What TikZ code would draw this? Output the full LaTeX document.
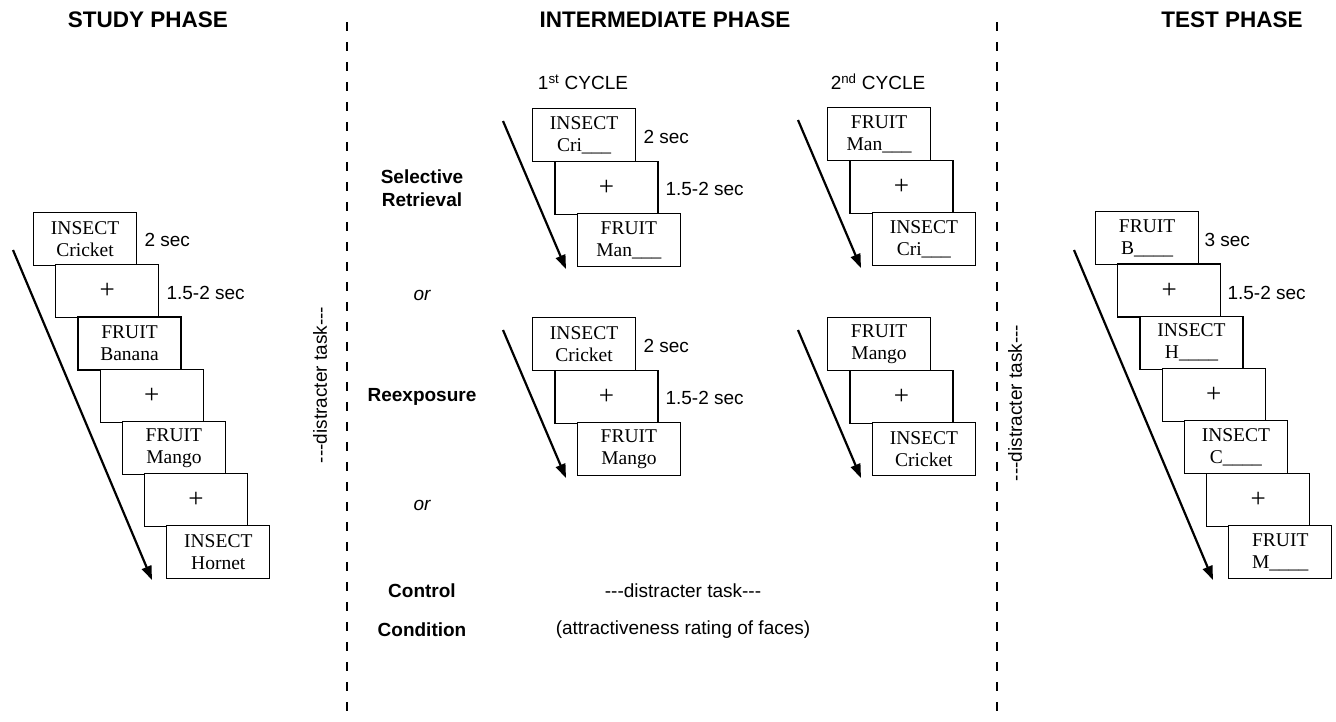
\documentclass[tikz,border=0pt]{standalone}
\usepackage{fontspec}
\setmainfont{Liberation Serif}
\setsansfont{Liberation Sans}
\usetikzlibrary{positioning,arrows.meta}
\newcommand{\crs}{{\fontsize{27}{27}\selectfont+}}
\newcommand{\dtask}{-{}-{}-distracter task-{}-{}-}

\begin{document}
\begin{tikzpicture}[x=1pt,y=-1pt
    ,card/.style={draw, fill=white, line width=1.2pt, minimum width=103pt, minimum height=53pt, inner sep=0pt, anchor=north west, align=center, font=\fontsize{19.5}{22}\selectfont}
    ,flow/.style={line width=2.2pt, -{Triangle[length=14pt,width=10pt]}}
    ,phase/.style={font=\sffamily\bfseries\fontsize{22.5}{26}\selectfont}
    ,cond/.style={font=\sffamily\bfseries\fontsize{19}{23}\selectfont, align=center}
    ,lbl/.style={font=\sffamily\fontsize{19}{23}\selectfont, anchor=west}
    ,alt/.style={font=\sffamily\itshape\fontsize{19}{23}\selectfont}
    ,sep/.style={line width=2.2pt, dash pattern=on 9pt off 11pt}
  ]
\useasboundingbox (0,0) rectangle (1336,721);

% headings
\node[phase] (study) at (148,20) {STUDY PHASE};
\node[phase] (inter) at (665,20) {INTERMEDIATE PHASE};
\node[phase] (test) at (1232,20) {TEST PHASE};

% separators
\coordinate (l1) at (347,22);
\coordinate (l2) at (347,721);
\coordinate (r1) at (997,22);
\coordinate (r2) at (997,721);
\draw[sep] (l1) -- (l2);
\draw[sep] (r1) -- (r2);
\node[lbl, anchor=center, rotate=90] (dl) at (320,385) {\dtask};
\node[lbl, anchor=center, rotate=90] (dr) at (1015,403) {\dtask};

% study phase
\foreach \txt [count=\i from 0] in {{INSECT\\Cricket},\crs,{FRUIT\\Banana},\crs,{FRUIT\\Mango},\crs,{INSECT\\Hornet}}
  \node[card] (s\i) at (33+22.2*\i,212+52.2*\i) {\txt};
\coordinate (sa) at (13,250);
\coordinate (sb) at (152,580);
\draw[flow] (sa) -- (sb);
\node[lbl] (st1) at (141,240) {2 sec};
\node[lbl] (st2) at (163,293) {1.5-2 sec};

% intermediate phase
\node[lbl, anchor=center] (c1) at (583,82) {1\textsuperscript{st} CYCLE};
\node[lbl, anchor=center] (c2) at (878,82) {2\textsuperscript{nd} CYCLE};
\foreach \nm/\x/\y/\ta/\tb in {
    sr1/532/108/{INSECT\\Cri\_\_\_}/{FRUIT\\Man\_\_\_},
    sr2/827/107/{FRUIT\\Man\_\_\_}/{INSECT\\Cri\_\_\_},
    re1/532/317/{INSECT\\Cricket}/{FRUIT\\Mango},
    re2/827/317/{FRUIT\\Mango}/{INSECT\\Cricket}}{
  \node[card] (\nm-1) at (\x,\y) {\ta};
  \node[card] (\nm-2) at (\x+22.4,\y+52.5) {\crs};
  \node[card] (\nm-3) at (\x+44.8,\y+105) {\tb};
  \coordinate (\nm-a) at (\x-29,\y+13);
  \coordinate (\nm-b) at (\x+34,\y+161);
  \draw[flow] (\nm-a) -- (\nm-b);
}
\node[lbl] (t1) at (640,137) {2 sec};
\node[lbl] (t2) at (662,189) {1.5-2 sec};
\node[lbl] (t3) at (640,346) {2 sec};
\node[lbl] (t4) at (662,398) {1.5-2 sec};

\node[cond] (sel) at (422,188) {Selective\\Retrieval};
\node[alt] (or1) at (422,295) {or};
\node[cond] (reex) at (422,397) {Reexposure};
\node[alt] (or2) at (422,505) {or};
\node[cond] (ctrl) at (422,591) {Control};
\node[cond] (cnd) at (422,630) {Condition};
\node[lbl, anchor=center] (dist) at (683,591) {\dtask};
\node[lbl, anchor=center] (rate) at (683,630) {(attractiveness rating of faces)};

% test phase
\foreach \txt [count=\i from 0] in {{FRUIT\\B\_\_\_\_},\crs,{INSECT\\H\_\_\_\_},\crs,{INSECT\\C\_\_\_\_},\crs,{FRUIT\\M\_\_\_\_}}
  \node[card] (p\i) at (1095+22.2*\i,211+52.3*\i) {\txt};
\coordinate (pa) at (1074,250);
\coordinate (pb) at (1213,580);
\draw[flow] (pa) -- (pb);
\node[lbl] (pt1) at (1201,240) {3 sec};
\node[lbl] (pt2) at (1224,293) {1.5-2 sec};
\end{tikzpicture}
\end{document}
